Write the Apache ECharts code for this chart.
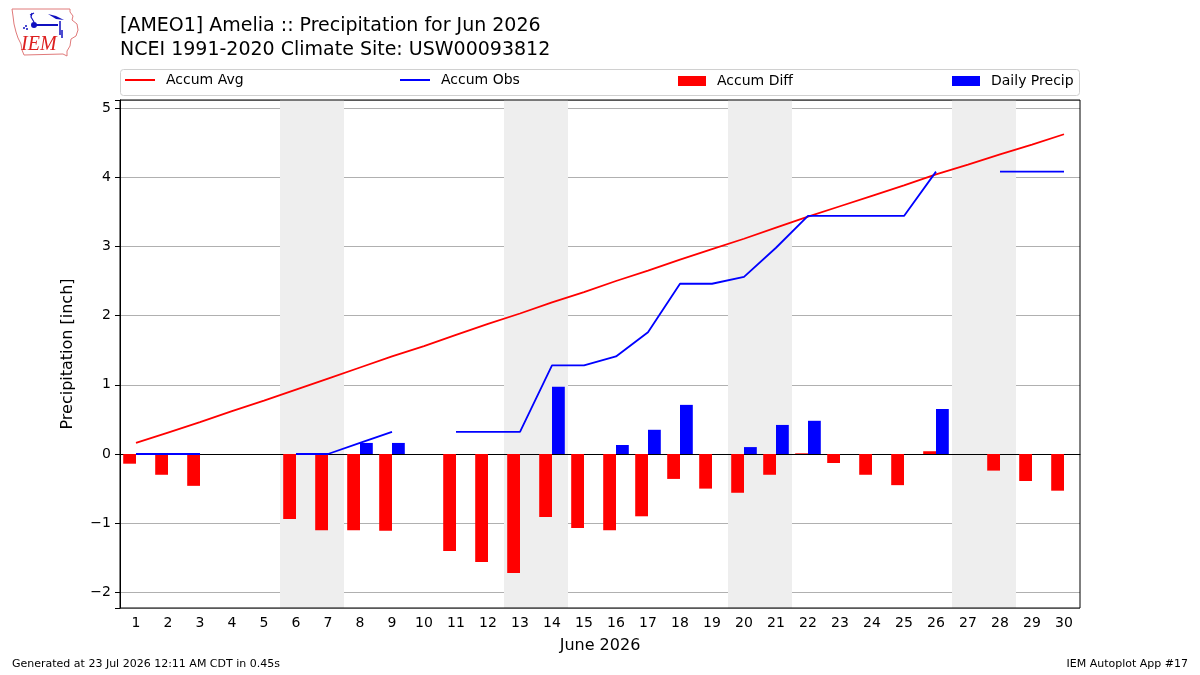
<!DOCTYPE html>
<html>
<head>
<meta charset="utf-8">
<script src="https://cdn.jsdelivr.net/npm/echarts@6/dist/echarts.min.js"></script>
<style>
  html, body { margin: 0; padding: 0; background: #fff; }
  #chart { width: 1200px; height: 675px; }
</style>
</head>
<body>
<div id="chart"></div>
<script>
const days = ['1', '2', '3', '4', '5', '6', '7', '8', '9', '10', '11', '12', '13', '14', '15',
  '16', '17', '18', '19', '20', '21', '22', '23', '24', '25', '26', '27', '28', '29', '30']
const weekendDays = ['6', '7', '13', '14', '20', '21', '27', '28']

const accumAvg = [0.16, 0.31, 0.46, 0.62, 0.77, 0.93, 1.09, 1.25, 1.41, 1.56,
  1.72, 1.88, 2.03, 2.19, 2.34, 2.50, 2.65, 2.81, 2.96, 3.11,
  3.27, 3.43, 3.58, 3.73, 3.88, 4.04, 4.18, 4.33, 4.47, 4.62]
const accumObs = [0, 0, 0, null, null, 0, 0, 0.16, 0.32, null,
  0.32, 0.32, 0.32, 1.28, 1.28, 1.41, 1.76, 2.46, 2.46, 2.56,
  2.98, 3.44, 3.44, 3.44, 3.44, 4.08, null, 4.08, 4.08, 4.08]
const accumDiff = [-0.14, -0.30, -0.46, null, null, -0.94, -1.10, -1.10, -1.11, null,
  -1.40, -1.56, -1.72, -0.91, -1.07, -1.10, -0.90, -0.36, -0.50, -0.56,
  -0.30, 0.01, -0.13, -0.30, -0.45, 0.04, null, -0.24, -0.39, -0.53]
const dailyPrecip = [0, 0, 0, null, null, 0, 0, 0.16, 0.16, null,
  0, 0, 0, 0.97, 0, 0.13, 0.35, 0.71, 0, 0.10,
  0.42, 0.48, 0, 0, 0, 0.65, null, 0, 0, 0]

const font = 'DejaVu Sans'
const chart = echarts.init(document.getElementById('chart'))

const fmtY = (v) => {
  if (Math.abs(v - Math.round(v)) > 1e-6) return ''
  return v < 0 ? '\u2212' + Math.abs(v) : String(v)
}

const legendText = { fontFamily: font, fontSize: 14, color: '#000', padding: [0, 0, 0, 6] }
const lineLegend = (name, left) => ({
  data: [{ name: name, icon: 'rect' }],
  left: left, top: 73, itemWidth: 30, itemHeight: 2,
  padding: 0, selectedMode: false, textStyle: legendText
})
const barLegend = (name, left) => ({
  data: [{ name: name, icon: 'rect' }],
  left: left, top: 74, itemWidth: 28, itemHeight: 10,
  padding: 0, selectedMode: false, textStyle: legendText
})

const option = {
  backgroundColor: '#fff',
  animation: false,
  title: [
    {
      text: '[AMEO1] Amelia :: Precipitation for Jun 2026\nNCEI 1991-2020 Climate Site: USW00093812',
      left: 120,
      top: 14,
      padding: 0,
      textStyle: { fontFamily: font, fontSize: 19, fontWeight: 'normal', color: '#000', lineHeight: 24 }
    },
    {
      text: 'Generated at 23 Jul 2026 12:11 AM CDT in 0.45s',
      left: 12,
      top: 659,
      padding: 0,
      textStyle: { fontFamily: font, fontSize: 11, fontWeight: 'normal', color: '#000' }
    },
    {
      text: 'IEM Autoplot App #17',
      right: 12,
      top: 659,
      padding: 0,
      textStyle: { fontFamily: font, fontSize: 11, fontWeight: 'normal', color: '#000' }
    }
  ],
  legend: [
    lineLegend('Accum Avg', 125),
    lineLegend('Accum Obs', 400),
    barLegend('Accum Diff', 678),
    barLegend('Daily Precip', 952)
  ],
  grid: { left: 120, right: 120, top: 100, bottom: 67 },
  xAxis: {
    type: 'category',
    data: days,
    name: 'June 2026',
    nameLocation: 'middle',
    nameGap: 30,
    nameTextStyle: { fontFamily: font, fontSize: 16, color: '#000' },
    axisLine: { lineStyle: { color: '#000', width: 1 } },
    axisTick: { alignWithLabel: true, length: 5, lineStyle: { color: '#000' } },
    axisLabel: { fontFamily: font, fontSize: 14, color: '#000', margin: 8, interval: 0 },
    splitLine: { show: false }
  },
  yAxis: {
    type: 'value',
    min: -2.225,
    max: 5.115,
    minInterval: 1,
    maxInterval: 1,
    name: 'Precipitation [inch]',
    nameLocation: 'middle',
    nameGap: 44,
    nameTextStyle: { fontFamily: font, fontSize: 16, color: '#000' },
    axisLine: { show: true, lineStyle: { color: '#000', width: 1 } },
    axisTick: { show: true, length: 5, lineStyle: { color: '#000' } },
    axisLabel: { fontFamily: font, fontSize: 14, color: '#000', margin: 9, formatter: fmtY },
    splitLine: { show: true, lineStyle: { color: '#b0b0b0', width: 1 } }
  },
  graphic: [
    {
      type: 'rect',
      shape: { x: 120.5, y: 69.5, width: 959, height: 26, r: 3 },
      style: { fill: 'none', stroke: '#d0d0d0', lineWidth: 1 },
      z: 1
    },
    {
      type: 'rect',
      shape: { x: 120, y: 100, width: 960, height: 508 },
      style: { fill: 'none', stroke: '#000', lineWidth: 1 },
      z: 100
    },
    {
      type: 'group',
      x: 10, y: 8,
      children: [
        {
          type: 'polyline',
          shape: { points: [[2, 1], [60, 1], [60, 4], [63, 8], [62, 12], [67, 16], [68, 22], [66, 28], [61, 31], [60, 38], [57, 43], [57, 48], [53, 46], [14, 47], [12, 42], [11, 36], [8, 30], [6, 24], [4, 16], [3, 8], [2, 1]] },
          style: { stroke: '#e07a7a', lineWidth: 1, fill: 'none' }
        },
        {
          type: 'text',
          style: { text: 'IEM', x: 11, y: 27, fontFamily: 'Liberation Serif', fontStyle: 'italic', fontSize: 20, fill: '#dd2020' }
        },
        { type: 'line', shape: { x1: 24, y1: 17, x2: 48, y2: 17 }, style: { stroke: '#1010c0', lineWidth: 2 } },
        { type: 'circle', shape: { cx: 24, cy: 17, r: 3 }, style: { fill: '#1010c0' } },
        { type: 'line', shape: { x1: 50, y1: 13, x2: 50, y2: 27 }, style: { stroke: '#1010c0', lineWidth: 1.5 } },
        { type: 'line', shape: { x1: 52, y1: 22, x2: 52, y2: 30 }, style: { stroke: '#1010c0', lineWidth: 1.5 } },
        { type: 'polygon', shape: { points: [[38, 6], [46, 8], [54, 12], [46, 11]] }, style: { fill: '#1010c0' } },
        { type: 'polyline', shape: { points: [[24, 14], [21, 9], [22, 5]] }, style: { stroke: '#1010c0', lineWidth: 1.2, fill: 'none' } },
        { type: 'polyline', shape: { points: [[20, 7], [24, 5]] }, style: { stroke: '#1010c0', lineWidth: 1.2 } },
        { type: 'circle', shape: { cx: 16, cy: 18, r: 1 }, style: { fill: '#1010c0' } },
        { type: 'circle', shape: { cx: 14, cy: 20, r: 1 }, style: { fill: '#1010c0' } },
        { type: 'circle', shape: { cx: 17, cy: 21, r: 1 }, style: { fill: '#1010c0' } }
      ]
    }
  ],
  series: [
    {
      name: 'weekend',
      type: 'custom',
      silent: true,
      z: 0,
      data: weekendDays.map((d) => [d, 0]),
      encode: { x: 0, y: 1 },
      renderItem: (params, api) => {
        const c = api.coord([api.value(0), 0])
        const w = api.size([1, 0])[0]
        const cs = params.coordSys
        return {
          type: 'rect',
          shape: { x: c[0] - w / 2, y: cs.y, width: w, height: cs.height },
          style: { fill: '#eeeeee' }
        }
      }
    },
    {
      name: 'Accum Diff',
      type: 'bar',
      data: accumDiff,
      barWidth: 12.8,
      barGap: '0%',
      itemStyle: { color: '#ff0000' },
      z: 3
    },
    {
      name: 'Daily Precip',
      type: 'bar',
      data: dailyPrecip,
      barWidth: 12.8,
      barGap: '0%',
      itemStyle: { color: '#0000ff' },
      z: 3
    },
    {
      name: 'Accum Avg',
      type: 'line',
      data: accumAvg,
      symbol: 'none',
      lineStyle: { color: '#ff0000', width: 1.8 },
      itemStyle: { color: '#ff0000' },
      z: 5
    },
    {
      name: 'Accum Obs',
      type: 'line',
      data: accumObs,
      symbol: 'none',
      connectNulls: false,
      lineStyle: { color: '#0000ff', width: 1.8 },
      itemStyle: { color: '#0000ff' },
      z: 5
    }
  ]
}

chart.setOption(option)
</script>
</body>
</html>
